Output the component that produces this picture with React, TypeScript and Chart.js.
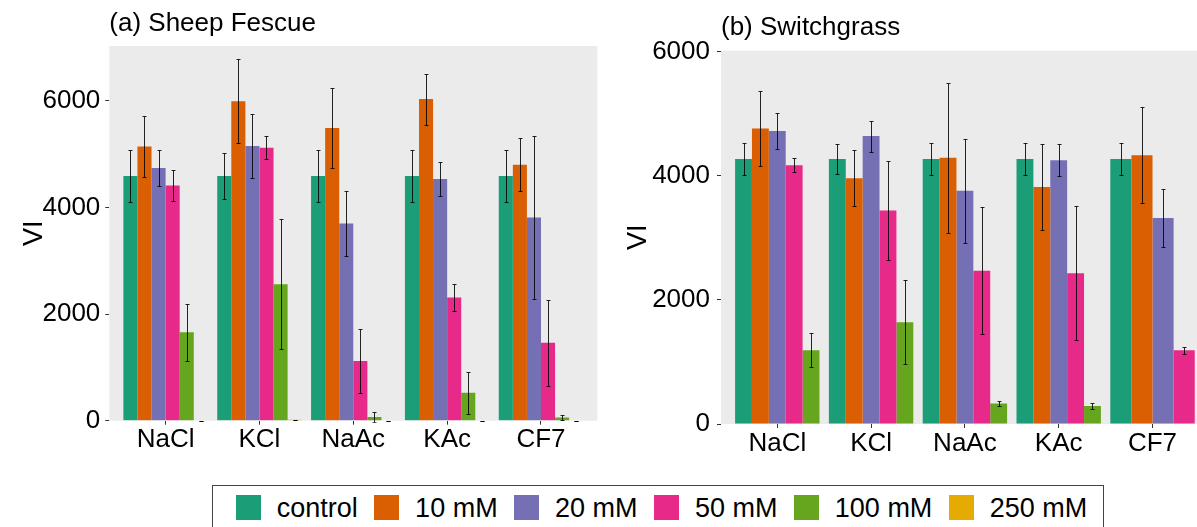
import React, { useEffect, useRef } from 'react';
import { Chart, registerables } from 'chart.js';

Chart.register(...registerables);

// Categories and treatments
const salts = ['NaCl', 'KCl', 'NaAc', 'KAc', 'CF7'];
const treatments = ['control', '10 mM', '20 mM', '50 mM', '100 mM', '250 mM'];
const treatmentColors = ['#1B9E77', '#D95F02', '#7570B3', '#E7298A', '#66A61E', '#E6AB02'];
const yTickValues = [0, 2000, 4000, 6000];

// (a) Sheep Fescue — mean VI per salt, and error half-widths
const fescueControl = [4590, 4590, 4590, 4590, 4590];
const fescue10 = [5140, 5990, 5490, 6030, 4800];
const fescue20 = [4740, 5150, 3700, 4530, 3810];
const fescue50 = [4410, 5120, 1120, 2310, 1460];
const fescue100 = [1660, 2560, 70, 525, 60];
const fescue250 = [0, 20, 0, 0, 0];

const fescueControlErr = [490, 430, 490, 490, 490];
const fescue10Err = [570, 790, 745, 480, 500];
const fescue20Err = [330, 595, 615, 320, 1520];
const fescue50Err = [290, 222, 605, 255, 805];
const fescue100Err = [535, 1220, 95, 390, 45];
const fescue250Err = [0, 0, 0, 0, 0];

// (b) Switchgrass — mean VI per salt, and error half-widths
const switchControl = [4270, 4270, 4270, 4270, 4270];
const switch10 = [4760, 3960, 4290, 3820, 4330];
const switch20 = [4720, 4640, 3760, 4250, 3320];
const switch50 = [4170, 3440, 2470, 2430, 1190];
const switch100 = [1190, 1640, 330, 290, null];
const switch250 = [null, null, null, null, null];

const switchControlErr = [260, 235, 260, 260, 260];
const switch10Err = [600, 450, 1210, 690, 770];
const switch20Err = [290, 250, 840, 258, 473];
const switch50Err = [112, 805, 1025, 1080, 57];
const switch100Err = [270, 675, 45, 50, null];
const switch250Err = [null, null, null, null, null];

const FONT = "'Liberation Sans', Arial, Helvetica, sans-serif";

type PanelSpec = {
  title: string;
  means: (number | null)[][];
  errors: (number | null)[][];
  yMax: number;
  width: number;
  height: number;
  padding: { left: number; right: number; top: number; bottom: number };
  titlePadding: { top: number; bottom: number };
  yWidth: number;
  xHeight: number;
  yTickPad: number;
};

// Grey panel behind the bars
const panelBackground = {
  id: 'panelBackground',
  beforeDraw(chart: any) {
    const { ctx, chartArea } = chart;
    ctx.save();
    ctx.fillStyle = '#EBEBEB';
    ctx.fillRect(chartArea.left, chartArea.top, chartArea.width, chartArea.height);
    ctx.restore();
  },
};

// Vertical error bars with small caps, centred on each bar
const errorBars = {
  id: 'errorBars',
  afterDatasetsDraw(chart: any) {
    const { ctx, chartArea } = chart;
    const y = chart.scales.y;
    ctx.save();
    ctx.beginPath();
    ctx.rect(chartArea.left, chartArea.top, chartArea.width, chartArea.height + 2);
    ctx.clip();
    ctx.strokeStyle = 'rgba(0,0,0,0.85)';
    ctx.lineWidth = 1;
    chart.data.datasets.forEach((ds: any, di: number) => {
      const meta = chart.getDatasetMeta(di);
      meta.data.forEach((bar: any, i: number) => {
        const v = ds.data[i];
        const e = ds.errors ? ds.errors[i] : null;
        if (v == null || e == null || !isFinite(bar.x)) return;
        const x = Math.round(bar.x) + 0.5;
        const yHi = Math.round(y.getPixelForValue(v + e)) + 0.5;
        const yLo = Math.round(y.getPixelForValue(v - e)) + 0.5;
        ctx.beginPath();
        ctx.moveTo(x, yHi);
        ctx.lineTo(x, yLo);
        ctx.moveTo(x - 2, yHi);
        ctx.lineTo(x + 2, yHi);
        ctx.moveTo(x - 2, yLo);
        ctx.lineTo(x + 2, yLo);
        ctx.stroke();
      });
    });
    ctx.restore();
  },
};

function buildChart(canvas: HTMLCanvasElement, spec: PanelSpec) {
  const tickFont = { family: FONT, size: 26 };
  return new Chart(canvas, {
    type: 'bar',
    data: {
      labels: salts.map((_, i) => i),
      datasets: spec.means.map((m, k) => ({
        label: treatments[k],
        data: m,
        errors: spec.errors[k],
        backgroundColor: treatmentColors[k],
        borderWidth: 0,
        categoryPercentage: 0.9,
        barPercentage: 1,
        skipNull: true,
      })) as any,
    },
    options: {
      animation: false,
      responsive: false,
      maintainAspectRatio: false,
      layout: { padding: spec.padding },
      plugins: {
        legend: { display: false },
        tooltip: { enabled: false },
        title: {
          display: true,
          text: spec.title,
          align: 'start',
          fullSize: false,
          color: '#000',
          font: { family: FONT, size: 26, weight: 'normal' },
          padding: spec.titlePadding,
        },
      },
      scales: {
        x: {
          type: 'linear',
          min: -0.6,
          max: salts.length - 0.4,
          offset: false,
          afterBuildTicks: (s: any) => {
            s.ticks = salts.map((_, i) => ({ value: i }));
          },
          afterFit: (s: any) => {
            s.height = spec.xHeight;
          },
          grid: {
            display: true,
            offset: false,
            drawOnChartArea: false,
            drawTicks: true,
            tickLength: 4,
            color: '#333',
          },
          border: { display: false },
          ticks: {
            callback: (v: any) => salts[v],
            font: tickFont,
            color: '#000',
            padding: 0,
            maxRotation: 0,
            autoSkip: false,
          },
        },
        y: {
          min: 0,
          max: spec.yMax,
          afterBuildTicks: (s: any) => {
            s.ticks = yTickValues.map((v) => ({ value: v }));
          },
          afterFit: (s: any) => {
            s.width = spec.yWidth;
          },
          grid: {
            display: true,
            drawOnChartArea: false,
            drawTicks: true,
            tickLength: 4,
            color: '#333',
          },
          border: { display: false },
          ticks: {
            callback: (v: any) => String(v),
            font: tickFont,
            color: '#000',
            padding: spec.yTickPad,
          },
          title: {
            display: true,
            text: 'VI',
            color: '#000',
            font: { family: FONT, size: 27 },
            padding: { top: 4, bottom: 4 },
          },
        },
      },
    } as any,
    plugins: [panelBackground, errorBars],
  });
}

const fescueSpec: PanelSpec = {
  title: '(a) Sheep Fescue',
  means: [fescueControl, fescue10, fescue20, fescue50, fescue100, fescue250],
  errors: [fescueControlErr, fescue10Err, fescue20Err, fescue50Err, fescue100Err, fescue250Err],
  yMax: 7026,
  width: 610,
  height: 470,
  padding: { left: 14.4, right: 12.7, top: 0, bottom: 0 },
  titlePadding: { top: 8.7, bottom: 6.1 },
  yWidth: 94.9,
  xHeight: 49.3,
  yTickPad: 5,
};

const switchSpec: PanelSpec = {
  title: '(b) Switchgrass',
  means: [switchControl, switch10, switch20, switch50, switch100, switch250],
  errors: [switchControlErr, switch10Err, switch20Err, switch50Err, switch100Err, switch250Err],
  yMax: 6015,
  width: 620,
  height: 470,
  padding: { left: 18.4, right: 11.2, top: 0, bottom: 0 },
  titlePadding: { top: 12.7, bottom: 6.8 },
  yWidth: 102.6,
  xHeight: 46,
  yTickPad: 7,
};

function Panel({ spec, left }: { spec: PanelSpec; left: number }) {
  const ref = useRef<HTMLCanvasElement>(null);
  useEffect(() => {
    const chart = buildChart(ref.current as HTMLCanvasElement, spec);
    return () => chart.destroy();
  }, [spec]);
  return (
    <canvas
      ref={ref}
      width={spec.width}
      height={spec.height}
      style={{ position: 'absolute', left, top: 0, width: spec.width, height: spec.height }}
    />
  );
}

function Legend() {
  return (
    <div
      style={{
        position: 'absolute',
        left: 212,
        top: 485,
        width: 892,
        height: 60,
        boxSizing: 'border-box',
        border: '1px solid #444',
        display: 'flex',
        alignItems: 'flex-start',
        paddingLeft: 23,
        paddingTop: 9,
        fontFamily: FONT,
        fontSize: 27,
        color: '#000',
        background: '#fff',
      }}
    >
      {treatments.map((t, k) => (
        <div key={t} style={{ display: 'flex', alignItems: 'flex-start', marginRight: 16.7 }}>
          <span
            style={{
              display: 'inline-block',
              width: 25,
              height: 25,
              background: treatmentColors[k],
              marginRight: 15.7,
            }}
          />
          <span style={{ lineHeight: '25px', position: 'relative', top: 1.4, whiteSpace: 'nowrap' }}>{t}</span>
        </div>
      ))}
    </div>
  );
}

export default function App() {
  return (
    <div
      style={{
        position: 'fixed',
        left: 0,
        top: 0,
        width: 1197,
        height: 527,
        overflow: 'hidden',
        background: '#fff',
      }}
    >
      <Panel spec={fescueSpec} left={0} />
      <Panel spec={switchSpec} left={600} />
      <Legend />
    </div>
  );
}
